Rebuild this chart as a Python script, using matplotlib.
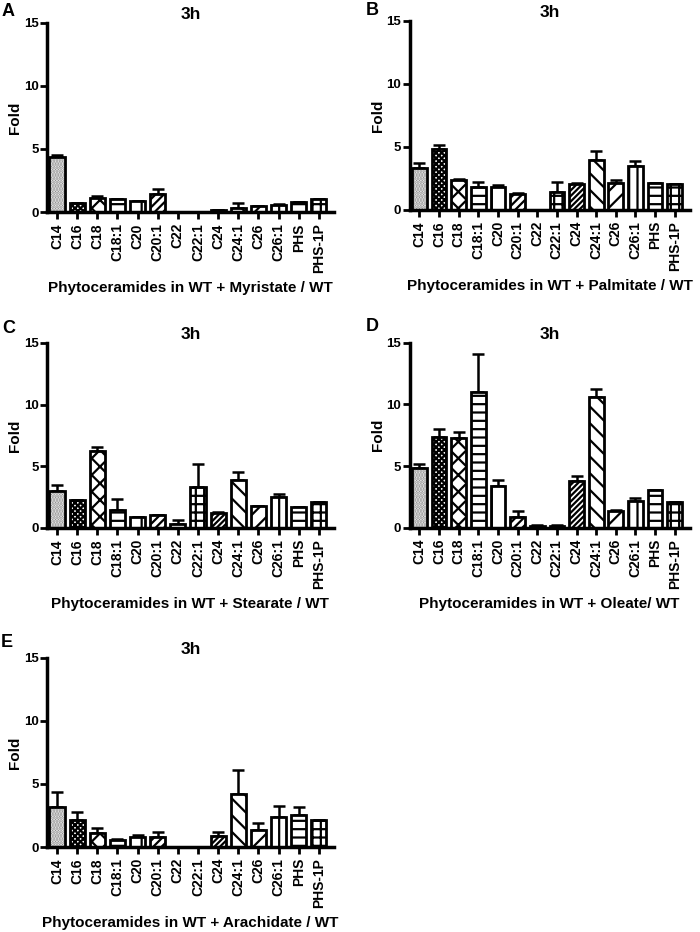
import numpy as np
import matplotlib
matplotlib.use("Agg")
import matplotlib.pyplot as plt

plt.rcParams['font.family'] = ['Liberation Sans', 'DejaVu Sans']
plt.rcParams['font.weight'] = 'bold'
plt.rcParams['hatch.linewidth'] = 1.6

lipids = ["C14", "C16", "C18", "C18:1", "C20", "C20:1", "C22", "C22:1",
          "C24", "C24:1", "C26", "C26:1", "PHS", "PHS-1P"]
hatches = ["......", "xxxxxx", "xx", "--", "|", "////", "", "++",
           "//////", "\\\\", "//", "||", "--", "++"]
hatch_colors = ["#8a8a8a"] + ["black"] * 13

# fold change (mean) and upper error per lipid
myristate = [4.4, 0.7, 1.1, 1.05, 0.85, 1.45, 0, 0, 0.2, 0.3, 0.45, 0.55, 0.8, 1.05]
myristate_err = [0.15, 0.05, 0.2, 0, 0, 0.35, 0, 0, 0, 0.45, 0.05, 0.05, 0, 0]

palmitate = [3.35, 4.8, 2.38, 1.8, 1.85, 1.25, 0, 1.4, 2.03, 3.93, 2.1, 3.5, 2.15, 2.08]
palmitate_err = [0.35, 0.35, 0.1, 0.4, 0.1, 0.1, 0, 0.8, 0.1, 0.75, 0.25, 0.35, 0, 0]

stearate = [3.03, 2.27, 6.23, 1.42, 0.9, 1.07, 0.33, 3.3, 1.23, 3.88, 1.75, 2.51, 1.69, 2.1]
stearate_err = [0.45, 0, 0.33, 0.9, 0, 0, 0.3, 1.9, 0.05, 0.68, 0.05, 0.25, 0, 0]

oleate = [4.81, 7.38, 7.27, 11.0, 3.36, 0.87, 0.14, 0.14, 3.77, 10.6, 1.37, 2.16, 3.03, 2.05]
oleate_err = [0.35, 0.63, 0.52, 3.1, 0.52, 0.46, 0.1, 0.05, 0.4, 0.63, 0.08, 0.22, 0.05, 0]

arachidate = [3.21, 2.16, 1.1, 0.53, 0.76, 0.79, 0, 0, 0.87, 4.21, 1.37, 2.4, 2.53, 2.13]
arachidate_err = [1.16, 0.58, 0.43, 0.13, 0.19, 0.42, 0, 0, 0.29, 1.9, 0.55, 0.86, 0.68, 0]

# letter, data, errors, x label, axes rect, letter position (pixels from top-left)
panels = [
    ("A", myristate, myristate_err, "Phytoceramides in WT + Myristate / WT",
     [0.067, 0.7725, 0.41, 0.203], (2, 3)),
    ("B", palmitate, palmitate_err, "Phytoceramides in WT + Palmitate / WT",
     [0.585, 0.7747, 0.40, 0.203], (366, 2)),
    ("C", stearate, stearate_err, "Phytoceramides in WT + Stearate / WT",
     [0.067, 0.4335, 0.41, 0.1985], (2, 320)),
    ("D", oleate, oleate_err, "Phytoceramides in WT + Oleate/ WT",
     [0.585, 0.4338, 0.40, 0.1985], (366, 318)),
    ("E", arachidate, arachidate_err, "Phytoceramides in WT + Arachidate / WT",
     [0.067, 0.0912, 0.41, 0.203], (1, 634)),
]

W, H = 700, 932
fig = plt.figure(figsize=(7, 9.32), dpi=100)

for letter, vals, errs, xlabel, rect, lpos in panels:
    ax = fig.add_axes(rect)
    x = np.arange(len(lipids))
    # hatch layer (hatch takes the edge colour), then black outline on top
    ax.bar(x, vals, width=0.75, color="white", edgecolor=hatch_colors,
           linewidth=0, hatch=hatches, zorder=2)
    ax.bar(x, vals, width=0.75, fill=False, edgecolor="black",
           linewidth=2, zorder=3)
    ax.errorbar(x, vals, yerr=[np.zeros(len(vals)), errs], fmt="none",
                ecolor="black", elinewidth=1.8, capsize=4, capthick=1.8, zorder=1)
    ax.set_xlim(-0.5, 13.75)
    ax.set_ylim(0, 15)
    ax.set_yticks([0, 5, 10, 15])
    ax.set_xticks(x)
    ax.set_xticklabels(lipids, rotation=90, fontsize=10, fontweight="bold")
    ax.tick_params(axis="y", labelsize=9.5, width=2, length=5, pad=1)
    ax.tick_params(axis="x", width=2, length=5, pad=3)
    for lab in ax.get_yticklabels():
        lab.set_fontweight("bold")
    ax.spines["top"].set_visible(False)
    ax.spines["right"].set_visible(False)
    ax.spines["left"].set_linewidth(2.5)
    ax.spines["bottom"].set_linewidth(2.5)
    ax.set_ylabel("Fold", fontsize=11, fontweight="bold", labelpad=1)
    ax.set_xlabel(xlabel, fontsize=11, fontweight="bold", labelpad=6)
    ax.set_title("3h", fontsize=12.5, fontweight="bold", pad=3)
    fig.text(lpos[0] / W, 1 - lpos[1] / H, letter, fontsize=13,
             fontweight="bold", ha="left", va="top")

fig.savefig("out.png", dpi=100)
